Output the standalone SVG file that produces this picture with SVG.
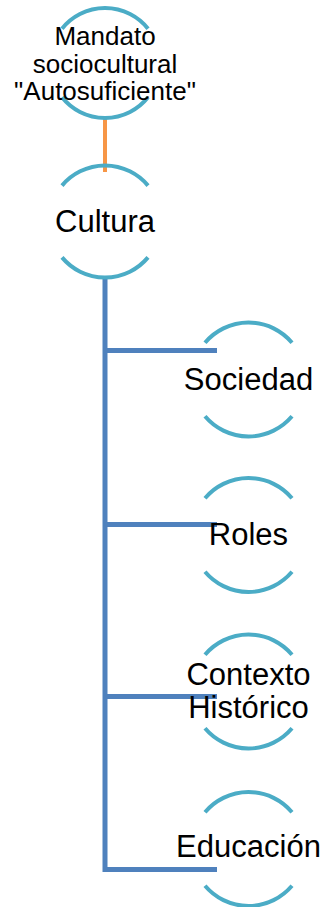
<svg xmlns="http://www.w3.org/2000/svg" width="325" height="907" viewBox="0 0 325 907">
<style>
.arc{fill:none;stroke:#4BACC6;stroke-width:4}
.lbl{font-family:"Liberation Sans",Arial,sans-serif;fill:#000;text-anchor:middle}
.big{font-size:31px}
.small{font-size:26px}
.blue{fill:none;stroke:#4F81BD;stroke-width:5;stroke-linejoin:miter}
</style>
<rect width="325" height="907" fill="#fff"/>
<g id="connectors">
<line x1="105" y1="118" x2="105" y2="172" stroke="#F79646" stroke-width="4"/>
<path class="blue" d="M105,279 V869.5 H217"/>
<line class="blue" x1="105" y1="350.5" x2="217" y2="350.5"/>
<line class="blue" x1="105" y1="524.5" x2="217" y2="524.5"/>
<line class="blue" x1="105" y1="696.5" x2="217" y2="696.5"/>
</g>
<g id="node-mandato">
<path class="arc" d="M62,28.7 A55,55 0 0 1 148,28.7"/>
<path class="arc" d="M62,97.3 A55,55 0 0 0 148,97.3"/>
<text class="lbl small" x="105" y="45">Mandato</text>
<text class="lbl small" x="105" y="73">sociocultural</text>
<text class="lbl small" x="105" y="100">"Autosuficiente"</text>
</g>
<g id="node-cultura">
<path class="arc" d="M62,185.6 A56,56 0 0 1 148,185.6"/>
<path class="arc" d="M62,257.4 A56,56 0 0 0 148,257.4"/>
<text class="lbl big" x="105" y="232">Cultura</text>
</g>
<g id="node-sociedad">
<path class="arc" d="M205,342.7 A57,57 0 0 1 292,342.7"/>
<path class="arc" d="M205,416.3 A57,57 0 0 0 292,416.3"/>
<text class="lbl big" x="248.5" y="390">Sociedad</text>
</g>
<g id="node-roles">
<path class="arc" d="M205,498.2 A57,57 0 0 1 292,498.2"/>
<path class="arc" d="M205,571.8 A57,57 0 0 0 292,571.8"/>
<text class="lbl big" x="248.5" y="545">Roles</text>
</g>
<g id="node-contexto">
<path class="arc" d="M205,654.7 A57,57 0 0 1 292,654.7"/>
<path class="arc" d="M205,728.3 A57,57 0 0 0 292,728.3"/>
<text class="lbl big" x="248.5" y="685">Contexto</text>
<text class="lbl big" x="248.5" y="718">Histórico</text>
</g>
<g id="node-educacion">
<path class="arc" d="M205,812.2 A57,57 0 0 1 292,812.2"/>
<path class="arc" d="M205,885.8 A57,57 0 0 0 292,885.8"/>
<text class="lbl big" x="248.5" y="857">Educación</text>
</g>
</svg>
